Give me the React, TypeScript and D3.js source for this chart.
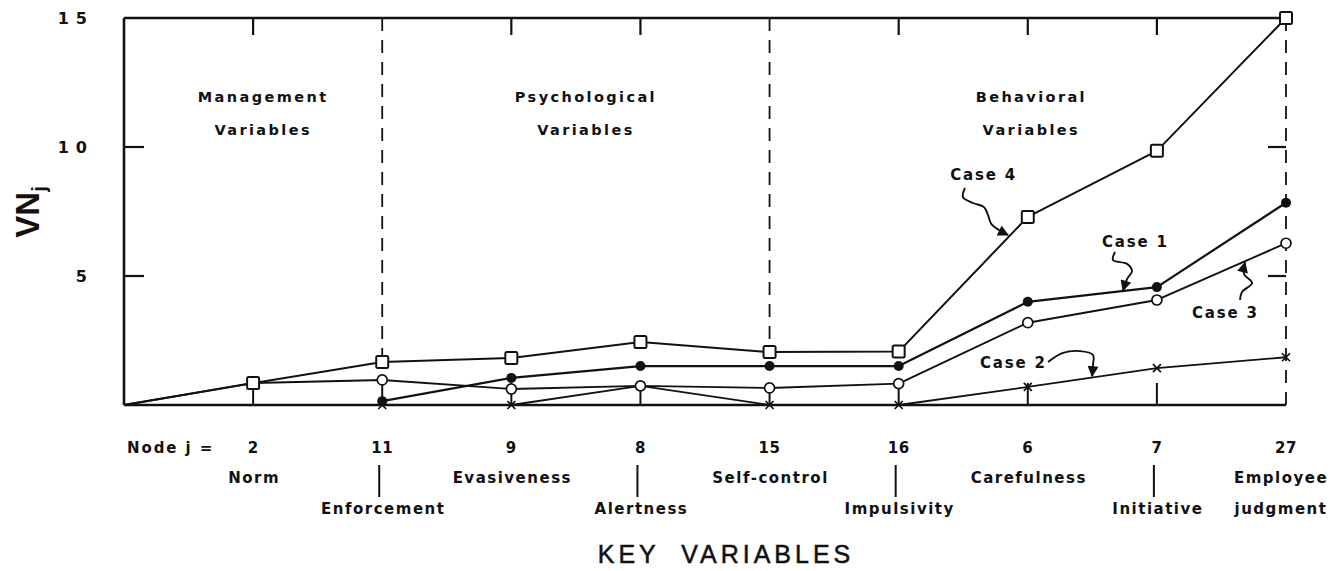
import React from 'react';
import * as d3 from 'd3';

// node order along the x axis (index 0 is the origin)
const nodeIds = ['2', '11', '9', '8', '15', '16', '6', '7', '27'];
const nodeNames = ['Norm', 'Enforcement', 'Evasiveness', 'Alertness', 'Self-control', 'Impulsivity', 'Carefulness', 'Initiative', 'Employee judgment'];
const dashedNodes = ['11', '15', '27'];

// VN_j values (index 0 = origin)
const case1 = [null, null, 0.15, 1.05, 1.51, 1.51, 1.51, 4.0, 4.57, 7.84];
const case2 = [null, null, 0, 0, 0.74, 0, 0, 0.7, 1.43, 1.85];
const case3 = [0, 0.85, 0.97, 0.62, 0.74, 0.66, 0.83, 3.19, 4.07, 6.27];
const case4 = [0, 0.85, 1.67, 1.82, 2.44, 2.05, 2.07, 7.29, 9.85, 15];

const yTicks = [5, 10, 15];

const groups = [
  { pos: 1.07, lines: ['Management', 'Variables'] },
  { pos: 3.57, lines: ['Psychological', 'Variables'] },
  { pos: 7.02, lines: ['Behavioral', 'Variables'] },
];

// annotation callouts in data units [index, value]
const callouts = [
  { label: 'Case 4', at: [6.4, 8.72], path: [[6.514, 8.41], [6.498, 8.06], [6.576, 7.83], [6.661, 7.67], [6.692, 7.36], [6.72, 7.0], [6.847, 6.59]] },
  { label: 'Case 1', at: [7.575, 6.12], path: [[7.676, 5.93], [7.66, 5.62], [7.769, 5.47], [7.807, 5.19], [7.769, 4.88], [7.738, 4.44]] },
  { label: 'Case 3', at: [8.272, 3.37], path: [[8.644, 4.07], [8.659, 4.38], [8.737, 4.73], [8.675, 5.08], [8.683, 5.52]] },
  { label: 'Case 2', at: [6.63, 1.43], path: [[7.157, 1.67], [7.273, 2.02], [7.405, 2.09], [7.505, 1.94], [7.505, 1.55], [7.498, 1.12]] },
];

const W = 1343;
const H = 571;
const FONT = '"DejaVu Sans", Verdana, sans-serif';
const HFONT = '"Liberation Sans", Arial, Helvetica, sans-serif';
const INK = '#111';

export default function App() {
  const x = d3.scaleLinear().domain([0, 9]).range([124, 1286]);
  const y = d3.scaleLinear().domain([0, 15]).range([405, 18]);
  const idx = d3.range(1, 10);

  const line = d3.line<number | null>()
    .defined((d) => d !== null)
    .x((_, i) => x(i))
    .y((d) => y(d as number));

  const curve = d3.line<number[]>()
    .x((d) => x(d[0]))
    .y((d) => y(d[1]))
    .curve(d3.curveCatmullRom);

  const series = [
    { vals: case2, marker: 'x', width: 1.8 },
    { vals: case3, marker: 'open', width: 1.9 },
    { vals: case1, marker: 'dot', width: 2.2 },
    { vals: case4, marker: 'square', width: 2 },
  ];

  const bold = { fontFamily: FONT, fontWeight: 700, fill: INK } as const;

  return (
    <svg width={W} height={H} style={{ position: 'absolute', left: 0, top: 0, background: '#fff' }}>
      <defs>
        <marker id="arr" viewBox="0 0 10 10" refX="9" refY="5" markerWidth="13" markerHeight="11" markerUnits="userSpaceOnUse" orient="auto">
          <path d="M0,0 L10,5 L0,10 Z" fill={INK} />
        </marker>
      </defs>

      {/* frame */}
      <line x1={x(0)} x2={x(0)} y1={y(15)} y2={y(0)} stroke={INK} strokeWidth={2.6} />
      <line x1={x(0)} x2={x(9)} y1={y(15)} y2={y(15)} stroke={INK} strokeWidth={2.6} />
      <line x1={x(0)} x2={x(9)} y1={y(0)} y2={y(0)} stroke={INK} strokeWidth={2.6} />

      {/* y ticks, both sides */}
      {[5, 10].map((v) => (
        <g key={v}>
          <line x1={x(0)} x2={x(0) + 20} y1={y(v)} y2={y(v)} stroke={INK} strokeWidth={2.2} />
          <line x1={x(9) - 18} x2={x(9)} y1={y(v)} y2={y(v)} stroke={INK} strokeWidth={2.2} />
        </g>
      ))}
      {yTicks.map((v) => (
        <text key={v} x={94} y={y(v)} dy="0.36em" textAnchor="end" fontSize={16} letterSpacing={7} style={bold}>{v}</text>
      ))}

      {/* node ticks / dashed separators */}
      {idx.map((i) => {
        const id = nodeIds[i - 1];
        if (dashedNodes.includes(id)) {
          const stop = id === '27' ? y(0) : y(case4[i]) - 6;
          return <line key={id} x1={x(i)} x2={x(i)} y1={y(15)} y2={stop} stroke={INK} strokeWidth={1.8} strokeDasharray="13,9" />;
        }
        return <line key={id} x1={x(i)} x2={x(i)} y1={y(15)} y2={y(15) + 17} stroke={INK} strokeWidth={2.2} />;
      })}
      {idx.slice(0, 8).map((i) => (
        <line key={'b' + i} x1={x(i)} x2={x(i)} y1={y(0)} y2={y(0) - 22} stroke={INK} strokeWidth={2} />
      ))}

      {/* group titles */}
      {groups.map((g) => (
        <g key={g.lines[0]}>
          <text x={x(g.pos) + 1} y={102} textAnchor="middle" fontSize={14.5} letterSpacing={2.4} style={bold}>{g.lines[0]}</text>
          <text x={x(g.pos) + 1} y={135} textAnchor="middle" fontSize={14.5} letterSpacing={2.4} style={bold}>{g.lines[1]}</text>
        </g>
      ))}

      {/* series lines */}
      {series.map((s, k) => (
        <path key={k} d={line(s.vals) || ''} fill="none" stroke={INK} strokeWidth={s.width} strokeLinejoin="round" />
      ))}

      {/* markers */}
      {series.map((s, k) => (
        <g key={'m' + k}>
          {idx.map((i) => {
            const v = s.vals[i];
            if (v === null) return null;
            const cx = x(i);
            const cy = y(v);
            if (s.marker === 'x') {
              return (
                <path key={i} d={`M${cx - 4},${cy - 4}L${cx + 4},${cy + 4}M${cx - 4},${cy + 4}L${cx + 4},${cy - 4}`} stroke={INK} strokeWidth={1.7} />
              );
            }
            if (s.marker === 'open') return <circle key={i} cx={cx} cy={cy} r={5} fill="#fff" stroke={INK} strokeWidth={1.7} />;
            if (s.marker === 'dot') return <circle key={i} cx={cx} cy={cy} r={5} fill={INK} />;
            return <rect key={i} x={cx - 6} y={cy - 6} width={12} height={12} rx={1.5} fill="#fff" stroke={INK} strokeWidth={2} />;
          })}
        </g>
      ))}

      {/* callouts */}
      {callouts.map((c) => (
        <g key={c.label}>
          <text x={x(c.at[0])} y={y(c.at[1])} fontSize={15} letterSpacing={1.8} style={bold}>{c.label}</text>
          <path d={curve(c.path) || ''} fill="none" stroke={INK} strokeWidth={1.9} markerEnd="url(#arr)" />
        </g>
      ))}

      {/* x axis labels */}
      <text x={127} y={453} fontSize={15} letterSpacing={1.9} style={bold}>Node j =</text>
      {idx.map((i) => (
        <text key={'n' + i} x={x(i)} y={453} textAnchor="middle" fontSize={15} letterSpacing={0.5} style={bold}>{nodeIds[i - 1]}</text>
      ))}
      {idx.map((i) => {
        const name = nodeNames[i - 1];
        if (i === 9) {
          const [a, b] = name.split(' ');
          return (
            <g key={'l' + i}>
              <text x={x(i) - 5} y={483} textAnchor="middle" fontSize={15} letterSpacing={1.5} style={bold}>{a}</text>
              <text x={x(i) - 5} y={514} textAnchor="middle" fontSize={15} letterSpacing={1.5} style={bold}>{b}</text>
            </g>
          );
        }
        const lower = i % 2 === 0;
        return (
          <g key={'l' + i}>
            {lower && <line x1={x(i) - 3} x2={x(i) - 3} y1={465} y2={497} stroke={INK} strokeWidth={2} />}
            <text x={x(i) + 1} y={lower ? 514 : 483} textAnchor="middle" fontSize={15} letterSpacing={1.5} style={bold}>{name}</text>
          </g>
        );
      })}

      <text x={726} y={563} textAnchor="middle" fontSize={25} letterSpacing={4} stroke={INK} strokeWidth={0.5} style={{ fontFamily: HFONT, fill: INK }} xmlSpace="preserve">KEY  VARIABLES</text>

      {/* y axis title */}
      <g transform="translate(39,212) rotate(-90)">
        <text textAnchor="middle" fontSize={33} style={{ fontFamily: HFONT, fontWeight: 700, fill: INK }}>
          VN<tspan fontSize={20} dy={7}>j</tspan>
        </text>
      </g>
    </svg>
  );
}
